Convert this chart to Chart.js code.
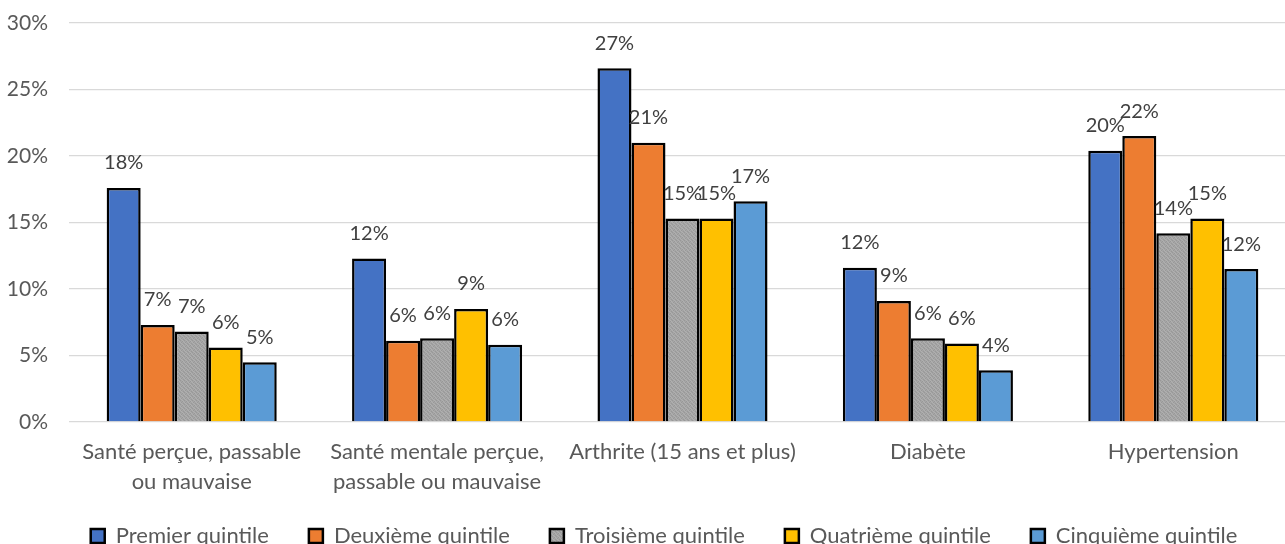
<!DOCTYPE html>
<html lang="fr">
<head>
<meta charset="utf-8">
<title>Prévalence selon le quintile de revenu</title>
<script src="https://cdn.jsdelivr.net/npm/chart.js@4.4.1/dist/chart.umd.min.js"></script>
<style>
  html, body { margin: 0; padding: 0; background: #ffffff; overflow: hidden; }
  #wrap { width: 1285px; height: 544px; overflow: hidden; position: relative; }
  canvas { display: block; }
</style>
</head>
<body>
<div id="wrap"><canvas id="chart" width="1296" height="557"></canvas></div>
<script>
// Indicators (one category per group, multi-line labels)
const categories = [
  ['Santé perçue, passable', 'ou mauvaise'],
  ['Santé mentale perçue,', 'passable ou mauvaise'],
  'Arthrite (15 ans et plus)',
  'Diabète',
  'Hypertension'
];

// Income quintiles
const seriesNames = [
  'Premier quintile',
  'Deuxième quintile',
  'Troisième quintile',
  'Quatrième quintile',
  'Cinquième quintile'
];

// Percentages per quintile, in category order
const premier   = [17.6, 12.3, 26.6, 11.6, 20.4];
const deuxieme  = [7.3, 6.1, 21.0, 9.1, 21.5];
const troisieme = [6.8, 6.3, 15.3, 6.3, 14.2];
const quatrieme = [5.6, 8.5, 15.3, 5.9, 15.3];
const cinquieme = [4.5, 5.8, 16.6, 3.9, 11.5];

// Axis ticks
const yMin = 0;
const yMax = 30;
const yStep = 5;

const FONT = 'Lato, "Open Sans", "Noto Sans", sans-serif';
const TEXT = '#595959';

// Fine stipple used for the grey series
function stipple() {
  const c = document.createElement('canvas');
  c.width = 4; c.height = 4;
  const g = c.getContext('2d');
  g.fillStyle = '#a5a5a5';
  g.fillRect(0, 0, 4, 4);
  g.fillStyle = '#989898';
  [[0,0],[2,1],[1,2],[3,3]].forEach(([x, y]) => g.fillRect(x, y, 1, 1));
  g.fillStyle = '#b0b0b0';
  [[2,0],[0,2],[3,1],[1,3]].forEach(([x, y]) => g.fillRect(x, y, 1, 1));
  return g.createPattern(c, 'repeat');
}

const fills = ['#4472c4', '#ed7d31', stipple(), '#ffc000', '#5b9bd5'];
const values = [premier, deuxieme, troisieme, quatrieme, cinquieme];

// Value labels above each bar
const barLabels = {
  id: 'barLabels',
  afterDatasetsDraw(chart) {
    const ctx = chart.ctx;
    ctx.save();
    ctx.font = '20px ' + FONT;
    ctx.fillStyle = '#404040';
    ctx.textAlign = 'center';
    ctx.textBaseline = 'middle';
    chart.data.datasets.forEach((ds, i) => {
      const meta = chart.getDatasetMeta(i);
      meta.data.forEach((bar, j) => {
        ctx.fillText(Math.round(ds.data[j]) + '%', bar.x, bar.y - 25);
      });
    });
    ctx.restore();
  }
};

// Let the two-line category labels run past the axis box, and nudge the legend row
const layoutTweaks = {
  id: 'layoutTweaks',
  afterLayout(chart) {
    chart.scales.x.bottom = chart.height;
    chart.legend.left += 16;
    chart.legend.right += 16;
  }
};

new Chart(document.getElementById('chart'), {
  type: 'bar',
  data: {
    labels: categories,
    datasets: seriesNames.map((name, i) => ({
      label: name,
      data: values[i],
      backgroundColor: fills[i],
      borderColor: '#000000',
      borderWidth: 2.5,
      categoryPercentage: 0.693,
      barPercentage: 1.0
    }))
  },
  options: {
    responsive: false,
    animation: false,
    layout: { padding: { top: 23, left: 0, right: 0, bottom: 0 } },
    plugins: {
      tooltip: { enabled: false },
      legend: {
        position: 'bottom',
        labels: {
          boxWidth: 14,
          boxHeight: 14,
          padding: 40,
          color: TEXT,
          font: { family: FONT, size: 22 }
        }
      }
    },
    scales: {
      x: {
        grid: { display: false },
        border: { display: false },
        ticks: {
          color: TEXT,
          font: { family: FONT, size: 22, lineHeight: 1.364 },
          padding: 7,
          maxRotation: 0,
          autoSkip: false
        },
        afterFit(scale) { scale.height = 63; }
      },
      y: {
        min: yMin,
        max: yMax,
        grid: { color: '#d9d9d9', lineWidth: 1.3, drawTicks: false },
        border: { display: false },
        ticks: {
          stepSize: yStep,
          color: TEXT,
          padding: 21,
          font: { family: FONT, size: 21 },
          callback: v => v + '%'
        },
        afterFit(scale) {
          scale.width = 69;
          scale.paddingTop = 0;
          scale.paddingBottom = 0;
        }
      }
    }
  },
  plugins: [barLabels, layoutTweaks]
});
</script>
</body>
</html>
